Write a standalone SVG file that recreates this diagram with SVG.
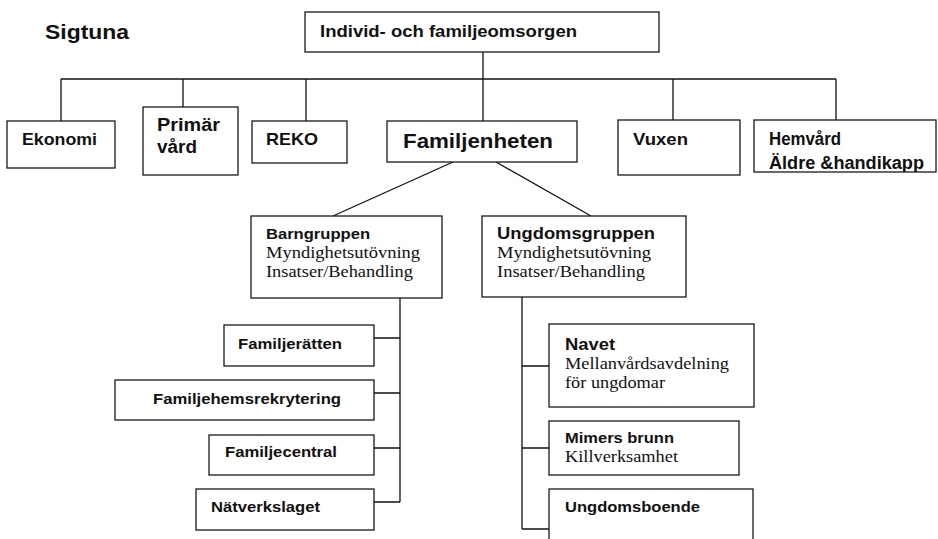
<svg xmlns="http://www.w3.org/2000/svg" width="938" height="539" viewBox="0 0 938 539">
  <style>
    .box { fill: #fff; stroke: #1a1a1a; stroke-width: 1.3; }
    .wire { fill: none; stroke: #111; stroke-width: 1.3; }
    .b { font-family: "Liberation Sans", Arial, Helvetica, sans-serif; font-weight: bold; fill: #111; }
    .s { font-family: "Liberation Serif", "Times New Roman", serif; fill: #111; font-size: 16px; }
  </style>
  <defs>
    <clipPath id="hemvard-clip"><rect x="754" y="120" width="182" height="52"/></clipPath>
  </defs>
  <rect width="938" height="539" fill="#fff"/>

  <text class="b" x="45" y="39" font-size="20" textLength="84" lengthAdjust="spacingAndGlyphs">Sigtuna</text>

  <g id="connectors">
    <path class="wire" d="M483 52 V121"/>
    <path class="wire" d="M61 79 H836"/>
    <path class="wire" d="M61 79 V121 M183 79 V107 M306 79 V121 M673 79 V120 M836 79 V120"/>
    <path class="wire" d="M453 162 L333 216 M496 162 L591 216"/>
    <path class="wire" d="M400 298 V502 M374 338 H400 M374 393 H400 M374 448 H400 M374 502 H400"/>
    <path class="wire" d="M522 297 V529 M522 366 H549 M522 448 H549 M522 529 H549"/>
  </g>

  <g id="ifo">
    <rect class="box" x="305" y="12" width="354" height="40"/>
    <text class="b" x="320" y="37" font-size="17" textLength="257" lengthAdjust="spacingAndGlyphs">Individ- och familjeomsorgen</text>
  </g>
  <g id="ekonomi">
    <rect class="box" x="7" y="121" width="108" height="47"/>
    <text class="b" x="22" y="145" font-size="17" textLength="75" lengthAdjust="spacingAndGlyphs">Ekonomi</text>
  </g>
  <g id="primarvard">
    <rect class="box" x="143" y="107" width="95" height="68"/>
    <text class="b" x="157" y="131" font-size="18" textLength="63" lengthAdjust="spacingAndGlyphs">Primär</text>
    <text class="b" x="157" y="153" font-size="18" textLength="40" lengthAdjust="spacingAndGlyphs">vård</text>
  </g>
  <g id="reko">
    <rect class="box" x="252" y="121" width="95" height="42"/>
    <text class="b" x="266" y="145" font-size="17" textLength="52" lengthAdjust="spacingAndGlyphs">REKO</text>
  </g>
  <g id="familjenheten">
    <rect class="box" x="387" y="121" width="190" height="41"/>
    <text class="b" x="403" y="148" font-size="21" textLength="150" lengthAdjust="spacingAndGlyphs">Familjenheten</text>
  </g>
  <g id="vuxen">
    <rect class="box" x="618" y="120" width="122" height="55"/>
    <text class="b" x="633" y="145" font-size="17" textLength="55" lengthAdjust="spacingAndGlyphs">Vuxen</text>
  </g>
  <g id="hemvard">
    <rect class="box" x="754" y="120" width="182" height="52"/>
    <g clip-path="url(#hemvard-clip)">
      <text class="b" x="769" y="145" font-size="18" textLength="72" lengthAdjust="spacingAndGlyphs">Hemvård</text>
      <text class="b" x="769" y="169" font-size="18" textLength="155" lengthAdjust="spacingAndGlyphs">Äldre &amp;handikapp</text>
    </g>
  </g>

  <g id="barngruppen">
    <rect class="box" x="251" y="216" width="191" height="82"/>
    <text class="b" x="266" y="239" font-size="15" textLength="104" lengthAdjust="spacingAndGlyphs">Barngruppen</text>
    <text class="s" x="266" y="258" textLength="154" lengthAdjust="spacingAndGlyphs">Myndighetsutövning</text>
    <text class="s" x="266" y="277" textLength="147" lengthAdjust="spacingAndGlyphs">Insatser/Behandling</text>
  </g>
  <g id="ungdomsgruppen">
    <rect class="box" x="482" y="216" width="204" height="81"/>
    <text class="b" x="497" y="239" font-size="16" textLength="158" lengthAdjust="spacingAndGlyphs">Ungdomsgruppen</text>
    <text class="s" x="497" y="258" textLength="154" lengthAdjust="spacingAndGlyphs">Myndighetsutövning</text>
    <text class="s" x="497" y="277" textLength="148" lengthAdjust="spacingAndGlyphs">Insatser/Behandling</text>
  </g>

  <g id="familjeratten">
    <rect class="box" x="224" y="325" width="150" height="41"/>
    <text class="b" x="238" y="349" font-size="15" textLength="104" lengthAdjust="spacingAndGlyphs">Familjerätten</text>
  </g>
  <g id="familjehemsrekrytering">
    <rect class="box" x="115" y="380" width="259" height="40"/>
    <text class="b" x="153" y="404" font-size="15" textLength="188" lengthAdjust="spacingAndGlyphs">Familjehemsrekrytering</text>
  </g>
  <g id="familjecentral">
    <rect class="box" x="209" y="435" width="165" height="40"/>
    <text class="b" x="225" y="457" font-size="15" textLength="112" lengthAdjust="spacingAndGlyphs">Familjecentral</text>
  </g>
  <g id="natverkslaget">
    <rect class="box" x="196" y="489" width="178" height="41"/>
    <text class="b" x="211" y="512" font-size="15" textLength="109" lengthAdjust="spacingAndGlyphs">Nätverkslaget</text>
  </g>

  <g id="navet">
    <rect class="box" x="549" y="324" width="205" height="83"/>
    <text class="b" x="565" y="350" font-size="16" textLength="50" lengthAdjust="spacingAndGlyphs">Navet</text>
    <text class="s" x="565" y="369" textLength="164" lengthAdjust="spacingAndGlyphs">Mellanvårdsavdelning</text>
    <text class="s" x="565" y="388" textLength="100" lengthAdjust="spacingAndGlyphs">för ungdomar</text>
  </g>
  <g id="mimers-brunn">
    <rect class="box" x="549" y="421" width="190" height="54"/>
    <text class="b" x="565" y="443" font-size="15" textLength="109" lengthAdjust="spacingAndGlyphs">Mimers brunn</text>
    <text class="s" x="565" y="462" textLength="113" lengthAdjust="spacingAndGlyphs">Killverksamhet</text>
  </g>
  <g id="ungdomsboende">
    <rect class="box" x="549" y="489" width="204" height="60"/>
    <text class="b" x="565" y="512" font-size="15" textLength="135" lengthAdjust="spacingAndGlyphs">Ungdomsboende</text>
  </g>
</svg>
